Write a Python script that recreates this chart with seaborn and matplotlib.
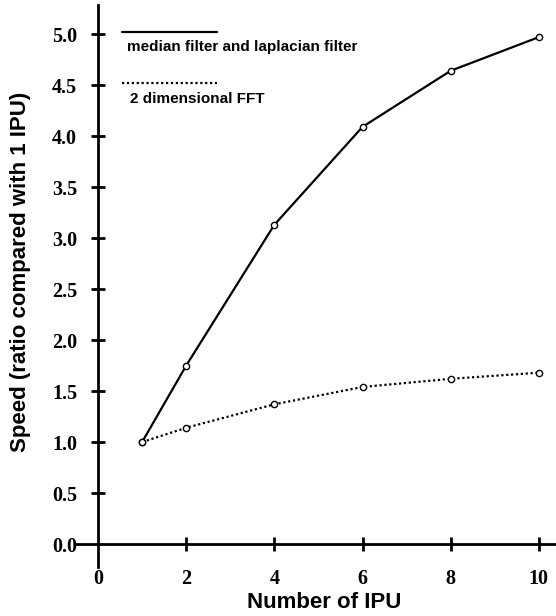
import matplotlib
matplotlib.use("Agg")
import matplotlib.pyplot as plt
import seaborn as sns
import pandas as pd
from matplotlib.lines import Line2D

sns.set_theme(style="white")
plt.rcParams['font.family'] = ['Liberation Sans', 'DejaVu Sans']

# Data
ipu = [1, 2, 4, 6, 8, 10]
median_laplacian = [1.0, 1.75, 3.13, 4.09, 4.64, 4.97]
fft_2d = [1.0, 1.14, 1.37, 1.54, 1.62, 1.68]
series_names = ["median filter and laplacian filter", "2 dimensional FFT"]
xticks = [0, 2, 4, 6, 8, 10]
yticks = [0.0, 0.5, 1.0, 1.5, 2.0, 2.5, 3.0, 3.5, 4.0, 4.5, 5.0]

df1 = pd.DataFrame({"x": ipu, "y": median_laplacian})
df2 = pd.DataFrame({"x": ipu, "y": fft_2d})

fig = plt.figure(figsize=(5.56, 6.16), dpi=100)
ax = fig.add_axes([76/556, 1 - 567/616, 1 - 76/556, (567 - 5)/616])

sns.lineplot(data=df1, x="x", y="y", ax=ax, color="black", linewidth=1.6,
             marker="o", markersize=4.5, markerfacecolor="white",
             markeredgecolor="black", markeredgewidth=1.0)
sns.lineplot(data=df2, x="x", y="y", ax=ax, color="black", linewidth=1.6,
             linestyle=(0, (1, 1.2)),
             marker="o", markersize=4.5, markerfacecolor="white",
             markeredgecolor="black", markeredgewidth=1.0)

ax.set_xlim(-0.5, 10.39)
ax.set_ylim(-0.225, 5.285)

for s in ["top", "right"]:
    ax.spines[s].set_visible(False)
ax.spines["left"].set_position(("data", 0))
ax.spines["bottom"].set_position(("data", 0))
for s in ["left", "bottom"]:
    ax.spines[s].set_linewidth(2.0)
    ax.spines[s].set_color("black")

ax.set_xticks(xticks)
ax.set_yticks(yticks)
ax.set_xticklabels([str(t) for t in xticks])
ax.set_yticklabels([f"{t:.1f}" for t in yticks])

ax.tick_params(axis="both", direction="inout", length=10, width=2.0, color="black",
               left=True, bottom=True)
ax.tick_params(axis="y", pad=10)
ax.tick_params(axis="x", pad=13)
for lab in ax.get_xticklabels() + ax.get_yticklabels():
    lab.set_fontfamily("Liberation Serif")
    lab.set_fontweight("bold")
    lab.set_fontsize(14.5)
    lab.set_color("black")

# hide the tick marks at 0 (axes cross there)
ax.xaxis.get_major_ticks()[0].tick1line.set_visible(False)
ax.yaxis.get_major_ticks()[0].tick1line.set_visible(False)

ax.set_xlabel("")
ax.set_ylabel("")
fig.text(324/556, 1 - 602/616, "Number of IPU", ha="center", va="center",
         fontsize=16, fontweight="bold", color="black")
fig.text(21/556, 1 - 272/616, "Speed (ratio compared with 1 IPU)", ha="center",
         va="center", rotation=90, fontsize=16, fontweight="bold", color="black")

# legend drawn as in the original (line above text)
fig.add_artist(Line2D([122/556, 217/556], [1 - 32/616, 1 - 32/616],
                      color="black", linewidth=1.6))
fig.text(127/556, 1 - 47/616, series_names[0], ha="left", va="center",
         fontsize=11, fontweight="bold", color="black")
fig.add_artist(Line2D([122/556, 217/556], [1 - 83/616, 1 - 83/616],
                      color="black", linewidth=1.6, linestyle=(0, (1, 1.2))))
fig.text(130/556, 1 - 99/616, series_names[1], ha="left", va="center",
         fontsize=11, fontweight="bold", color="black")

fig.savefig("out.png", dpi=100)
